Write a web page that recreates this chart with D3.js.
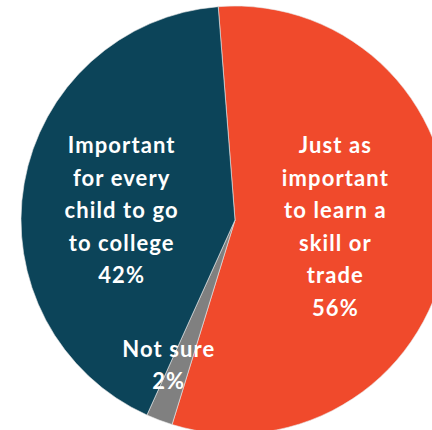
<!DOCTYPE html>
<html>
<head>
<meta charset="utf-8">
<script src="https://cdn.jsdelivr.net/npm/d3@7"></script>
<style>
  body { margin: 0; background: #fff; }
  svg { display: block; }
  .slice_label { font-family: Lato, "Open Sans", sans-serif; font-weight: 700; fill: #fff; letter-spacing: 1.1px; }
</style>
</head>
<body>
<svg id="chart"></svg>
<script>
var categories = ["Just as important to learn a skill or trade", "Not sure", "Important for every child to go to college"];
var values = [56, 2, 42];
var labelLines = [
  ["Just as", "important", "to learn a", "skill or", "trade", "56%"],
  ["Not sure", "2%"],
  ["Important", "for every", "child  to go", "to college", "42%"]
];
var colors = ["#f04a2c", "#808080", "#0c4459"];

var width = 432, height = 430;
var cx = 235, cy = 220, radius = 214;
var startDeg = -4.5;

var svg = d3.select("#chart")
  .attr("width", width)
  .attr("height", height);

var g = svg.append("g")
  .attr("transform", "translate(" + cx + "," + cy + ")");

var pie = d3.pie()
  .sort(null)
  .value(function(d){ return d; })
  .startAngle(startDeg * Math.PI / 180)
  .endAngle((startDeg + 360) * Math.PI / 180);

var arcs = pie(values);

var arc = d3.arc().innerRadius(0).outerRadius(radius);

g.selectAll(".slice")
  .data(arcs)
  .enter()
  .append("path")
  .attr("class", "slice")
  .attr("d", arc)
  .attr("fill", function(d, i){ return colors[i]; })
  .attr("stroke", "#e8e8e8")
  .attr("stroke-width", 0.6);

// label placement: radius along the slice's middle angle, then nudge
var labelRadius = [101, 162, 112];
var labelNudge = [[0, -4], [-9, -6], [-3, 10]];
var lineGap = 32.5;

var labels = g.selectAll(".slice_label")
  .data(arcs)
  .enter()
  .append("text")
  .attr("class", "slice_label")
  .attr("text-anchor", "middle")
  .attr("font-size", 22)
  .attr("transform", function(d, i){
    var a = (d.startAngle + d.endAngle) / 2;
    var x = labelRadius[i] * Math.sin(a) + labelNudge[i][0];
    var y = -labelRadius[i] * Math.cos(a) + labelNudge[i][1];
    return "translate(" + x + "," + y + ")";
  });

labels.each(function(d, i){
  var lines = labelLines[i];
  var n = lines.length;
  d3.select(this).selectAll("tspan")
    .data(lines)
    .enter()
    .append("tspan")
    .attr("x", 0)
    .attr("y", function(t, j){ return (j - (n - 1) / 2) * lineGap + 7.5; })
    .text(function(t){ return t; });
});
</script>
</body>
</html>
